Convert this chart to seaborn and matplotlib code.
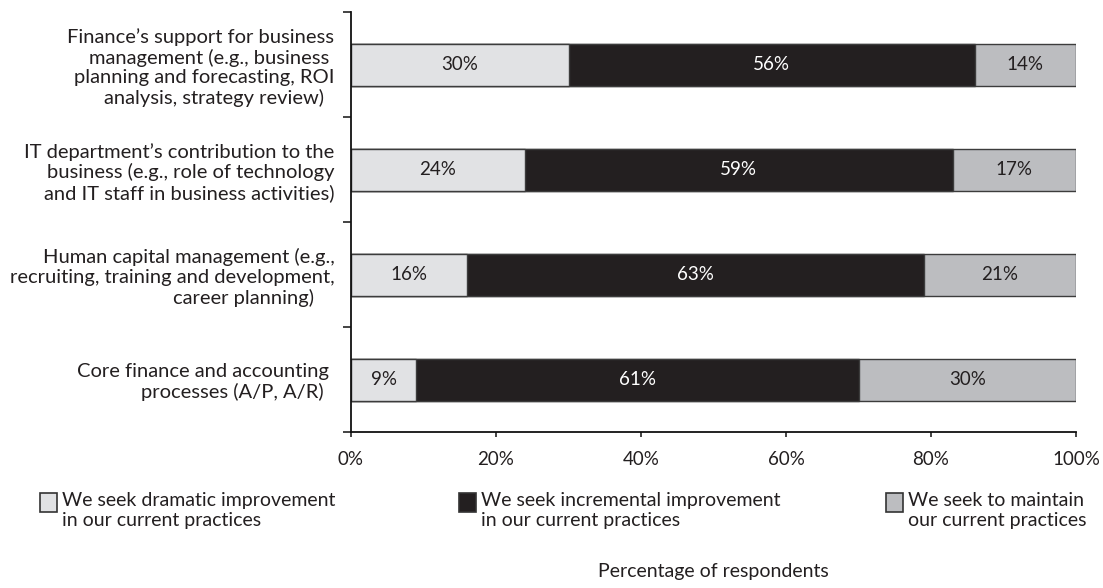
import matplotlib
matplotlib.use("Agg")
import matplotlib.pyplot as plt
from matplotlib.patches import Rectangle
from matplotlib.ticker import FixedLocator, PercentFormatter
import pandas as pd
import seaborn as sns

# Survey areas (top to bottom)
categories = [
    "Finance\u2019s support for business\nmanagement (e.g., business \nplanning and forecasting, ROI\nanalysis, strategy review)  ",
    "IT department\u2019s contribution to the\nbusiness (e.g., role of technology\nand IT staff in business activities)",
    "Human capital management (e.g.,\nrecruiting, training and development,\ncareer planning)    ",
    "Core finance and accounting \nprocesses (A/P, A/R)  ",
]
# Share of respondents per answer (%)
dramatic = [30, 24, 16, 9]
incremental = [56, 59, 63, 61]
maintain = [14, 17, 21, 30]

series_names = [
    "We seek dramatic improvement\nin our current practices",
    "We seek incremental improvement\nin our current practices",
    "We seek to maintain\nour current practices",
]
x_ticks = [0, 20, 40, 60, 80, 100]

LIGHT, DARK, MID = "#e1e2e4", "#231f20", "#bcbdc0"
EDGE = "#3c3c3c"
TEXT = "#231f20"

sns.set_style("ticks")
plt.rcParams["font.family"] = ["Lato", "DejaVu Sans"]
plt.rcParams["text.color"] = TEXT

df = pd.DataFrame({
    "area": categories,
    "dramatic": dramatic,
    "incremental": incremental,
    "maintain": maintain,
})
df["cum1"] = df["dramatic"]
df["cum2"] = df["dramatic"] + df["incremental"]
df["cum3"] = df["cum2"] + df["maintain"]

fig = plt.figure(figsize=(11.03, 5.88), dpi=100)
W, H = 1103, 588
ax = fig.add_axes([351 / W, 1 - 432 / H, (1076 - 351) / W, (432 - 12) / H])

# Stacked bars: draw cumulative totals back to front
for col, color in [("cum3", MID), ("cum2", DARK), ("cum1", LIGHT)]:
    sns.barplot(data=df, x=col, y="area", orient="h", color=color,
                width=0.4, edgecolor=EDGE, linewidth=1.0, saturation=1,
                ax=ax, order=categories)

# Segment value labels
for i in range(len(categories)):
    starts = [0, df["cum1"][i], df["cum2"][i]]
    vals = [dramatic[i], incremental[i], maintain[i]]
    colors = [TEXT, "white", TEXT]
    for s, v, c in zip(starts, vals, colors):
        ax.text(s + v / 2, i, f"{v}%", ha="center", va="center",
                fontsize=13.5, color=c)

ax.set_xlim(0, 100)
ax.set_ylim(3.5, -0.5)
ax.xaxis.set_major_locator(FixedLocator(x_ticks))
ax.xaxis.set_major_formatter(PercentFormatter(decimals=0))
ax.set_xlabel("")
ax.set_ylabel("")

ax.set_yticks(range(len(categories)))
ax.set_yticklabels(categories, fontsize=14.5, multialignment="right",
                   linespacing=1.18)
ax.yaxis.set_minor_locator(FixedLocator([-0.5, 0.5, 1.5, 2.5, 3.5]))
ax.tick_params(axis="y", which="major", length=0, pad=12, labelcolor=TEXT)
ax.tick_params(axis="y", which="minor", length=6, width=1.1, color="#111111")
ax.tick_params(axis="x", which="major", length=3.5, width=1.1, pad=10,
               labelsize=13.5, labelcolor=TEXT, color="#111111")

for side in ["top", "right"]:
    ax.spines[side].set_visible(False)
for side in ["left", "bottom"]:
    ax.spines[side].set_linewidth(1.3)
    ax.spines[side].set_color("#111111")

# Legend: swatch aligned with the first line of each label
legend_x = [40, 459, 886]
for x0, name, color in zip(legend_x, series_names, [LIGHT, DARK, MID]):
    fig.patches.append(Rectangle((x0 / W, 1 - 512 / H), 17 / W, 19 / H,
                                 transform=fig.transFigure, facecolor=color,
                                 edgecolor="#333333", linewidth=1.2))
    fig.text((x0 + 22) / W, 1 - 492 / H, name, ha="left", va="top",
             fontsize=14, linespacing=1.18, color=TEXT)

fig.text(713 / W, 1 - 572 / H, "Percentage of respondents", ha="center",
         va="center", fontsize=14, color=TEXT)

fig.savefig("out.png", dpi=100)
